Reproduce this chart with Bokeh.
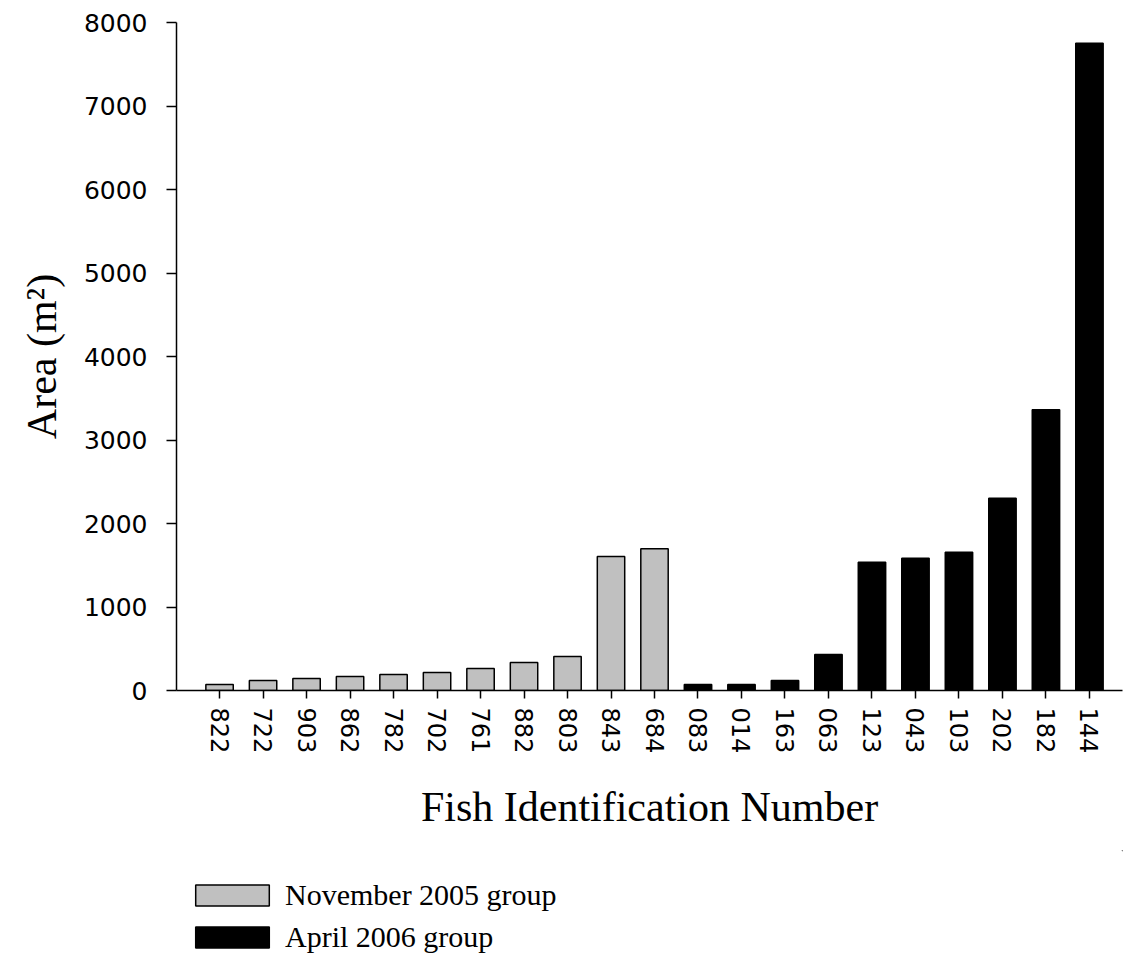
from bokeh.plotting import figure
from bokeh.layouts import column
from bokeh.models import Range1d, FixedTicker, Legend, LegendItem, ColumnDataSource
from bokeh.embed import file_html
from bokeh.resources import INLINE

# ---- data ----
fish_ids = ["822", "722", "903", "862", "782", "702", "761", "882", "803", "843", "684",
            "083", "014", "163", "063", "123", "043", "103", "202", "182", "144"]
nov_ids = ["822", "722", "903", "862", "782", "702", "761", "882", "803", "843", "684"]
nov_area = [72, 120, 144, 168, 192, 216, 263, 335, 407, 1605, 1697]
apr_ids = ["083", "014", "163", "063", "123", "043", "103", "202", "182", "144"]
apr_area = [72, 72, 120, 431, 1537, 1585, 1657, 2303, 3361, 7752]
y_ticks = [0, 1000, 2000, 3000, 4000, 5000, 6000, 7000, 8000]
group_labels = ["November 2005 group", "April 2006 group"]
group_colors = ["#c0c0c0", "black"]

idx = {f: i for i, f in enumerate(fish_ids)}
src_nov = ColumnDataSource(dict(x=[idx[f] for f in nov_ids], top=nov_area))
src_apr = ColumnDataSource(dict(x=[idx[f] for f in apr_ids], top=apr_area))

W, H1, H2 = 1124, 850, 104
p = figure(width=W, height=H1, output_backend="svg", toolbar_location=None,
           x_range=Range1d(-0.99, 20.76), y_range=Range1d(0, 8000),
           min_border_left=176, min_border_top=22, min_border_right=2,
           min_border_bottom=H1 - 690)
p.outline_line_color = None
p.xgrid.visible = False
p.ygrid.visible = False

p.vbar(x="x", top="top", width=0.63, bottom=0, source=src_nov,
       fill_color=group_colors[0], line_color="black", line_width=1.5)
p.vbar(x="x", top="top", width=0.63, bottom=0, source=src_apr,
       fill_color=group_colors[1], line_color="black", line_width=1.5)

# x axis
xa = p.xaxis[0]
xa.ticker = FixedTicker(ticks=list(range(len(fish_ids))))
xa.major_label_overrides = {i: f for i, f in enumerate(fish_ids)}
xa.major_label_orientation = "vertical"
xa.major_label_text_font = "DejaVu Sans"
xa.major_label_text_font_size = "24px"
xa.major_label_text_color = "black"
xa.major_label_standoff = 9
xa.major_tick_out = 8
xa.major_tick_in = 0
xa.minor_tick_out = 0
xa.minor_tick_in = 0
xa.axis_line_width = 1.5
xa.major_tick_line_width = 1.5
xa.axis_label = "Fish Identification Number"
xa.axis_label_text_font = "Liberation Serif"
xa.axis_label_text_font_size = "42px"
xa.axis_label_text_font_style = "normal"
xa.axis_label_text_color = "black"
xa.axis_label_standoff = 28

# y axis
ya = p.yaxis[0]
ya.ticker = FixedTicker(ticks=y_ticks)
ya.major_label_text_font = "DejaVu Sans"
ya.major_label_text_font_size = "25px"
ya.major_label_text_color = "black"
ya.major_label_standoff = 19
ya.major_tick_out = 10
ya.major_tick_in = 0
ya.minor_tick_out = 0
ya.minor_tick_in = 0
ya.axis_line_width = 1.5
ya.major_tick_line_width = 1.5
ya.axis_label = "Area (m²)"
ya.axis_label_text_font = "Liberation Serif"
ya.axis_label_text_font_size = "42px"
ya.axis_label_text_font_style = "normal"
ya.axis_label_text_color = "black"
ya.axis_label_standoff = 16

# legend panel (separate figure below the chart; its swatch bars lie outside its ranges)
q = figure(width=W, height=H2, output_backend="svg", toolbar_location=None,
           x_range=Range1d(0, 1), y_range=Range1d(0, 1),
           x_axis_location=None, y_axis_location=None, min_border=0)
q.outline_line_color = None
q.xgrid.visible = False
q.ygrid.visible = False
items = []
for lab, col in zip(group_labels, group_colors):
    r = q.vbar(x=[50], bottom=[50], top=[51], width=0.5, fill_color=col,
               line_color="black", line_width=1.5)
    items.append(LegendItem(label=lab, renderers=[r]))

legend = Legend(items=items, location=(10, 0), orientation="vertical")
legend.border_line_color = None
legend.background_fill_alpha = 0
legend.label_text_font = "Liberation Serif"
legend.label_text_font_size = "30px"
legend.label_text_color = "black"
legend.glyph_width = 92
legend.glyph_height = 26
legend.label_standoff = 7
legend.spacing = 8
legend.padding = 0
legend.margin = 0
q.add_layout(legend)

open("out.html", "w").write(file_html(column(p, q, spacing=0), INLINE))
